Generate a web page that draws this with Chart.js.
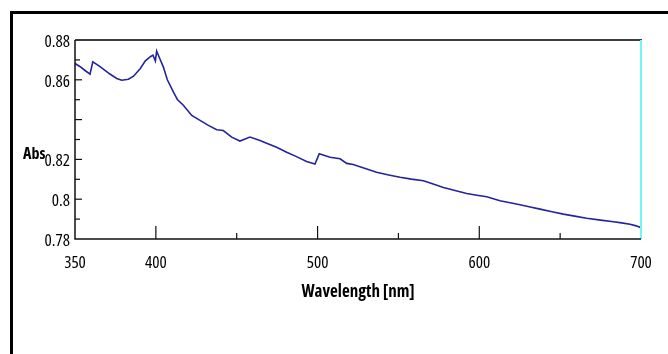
<!DOCTYPE html>
<html>
<head>
<meta charset="utf-8">
<script src="https://cdn.jsdelivr.net/npm/chart.js@4.4.1/dist/chart.umd.min.js"></script>
<style>
  html, body { margin: 0; padding: 0; background: #fff; }
  #wrap { position: relative; width: 668px; height: 354px; overflow: hidden; }
  #frame { position: absolute; left: 10px; top: 11px; width: 700px; height: 400px;
           border-left: 3px solid #000; border-top: 3px solid #000; pointer-events: none; }
  canvas { position: absolute; left: 0; top: 0; }
</style>
</head>
<body>
<div id="wrap">
  <canvas id="c" width="668" height="354"></canvas>
  <div id="frame"></div>
</div>
<script>
// ---- data ----
const wavelength = [350, 353, 356, 359.3, 361, 365.5, 371.6, 375.8, 378.9, 383,
  386.2, 390.4, 393.5, 396.6, 398.2, 399.7, 400.5, 402.6, 404.6, 407.1,
  410.8, 413.3, 417, 422.2, 427.3, 432.5, 437.6, 441.7, 446.9, 452,
  458.2, 464.4, 468.5, 474.7, 480.9, 487, 493.2, 498.4, 501, 507.7,
  513.9, 518, 522, 529, 536.5, 544, 551, 558, 565.4, 571.5,
  577.8, 585, 592.2, 598.5, 604.6, 612.8, 619, 625.2, 631.5, 637.6,
  645, 652, 659, 666.4, 675, 683, 688, 693.2, 697, 700];
const absorbance = [0.8682, 0.8667, 0.8648, 0.8628, 0.869, 0.8666, 0.8629, 0.8607, 0.8598, 0.8603,
  0.8618, 0.8657, 0.8695, 0.8716, 0.8724, 0.8695, 0.8744, 0.8703, 0.8665, 0.86,
  0.8539, 0.8501, 0.8472, 0.8421, 0.8396, 0.8371, 0.8349, 0.8345, 0.8312, 0.8292,
  0.8312, 0.8295, 0.8281, 0.8261, 0.8236, 0.8214, 0.819, 0.8177, 0.8228, 0.8211,
  0.8203, 0.818, 0.8174, 0.8155, 0.8135, 0.8122, 0.811, 0.8101, 0.8093, 0.8076,
  0.8059, 0.8044, 0.8029, 0.802, 0.8012, 0.7992, 0.7982, 0.7972, 0.7961, 0.795,
  0.7937, 0.7925, 0.7915, 0.7904, 0.7895, 0.7887, 0.7881, 0.7874, 0.7866, 0.7857];
const xTickLabels = ['350', '400', '500', '600', '700'];
const yTickLabels = ['0.78', '0.8', '0.82', '0.86', '0.88'];
const xTitle = 'Wavelength [nm]';
const yTitle = 'Abs';

const FONT = '"Open Sans", "Roboto Condensed", sans-serif';

const points = wavelength.map((w, i) => ({ x: w, y: absorbance[i] }));

const framePlugin = {
  id: 'framePlugin',
  afterDatasetsDraw(chart) {
    const { ctx, chartArea: { left, right, top, bottom }, scales: { x, y } } = chart;
    ctx.save();
    // top border
    ctx.strokeStyle = '#3c3c3c'; ctx.lineWidth = 2;
    ctx.beginPath(); ctx.moveTo(left, top); ctx.lineTo(right + 1, top); ctx.stroke();
    // right cyan border
    ctx.strokeStyle = '#70f8f8'; ctx.lineWidth = 2;
    ctx.beginPath(); ctx.moveTo(right, top); ctx.lineTo(right, bottom); ctx.stroke();
    // axes
    ctx.strokeStyle = '#111'; ctx.lineWidth = 1.5;
    ctx.beginPath(); ctx.moveTo(left, top); ctx.lineTo(left, bottom); ctx.lineTo(right, bottom); ctx.stroke();
    // y tick marks (inside, pointing right)
    ctx.lineWidth = 1.2;
    y.ticks.forEach(t => {
      const v = Math.round(t.value * 100);
      if (v <= 78 || v >= 88) return;
      const py = y.getPixelForValue(t.value);
      const len = (v % 2 === 0) ? 7 : 5;
      ctx.beginPath(); ctx.moveTo(left, py); ctx.lineTo(left + len, py); ctx.stroke();
    });
    // x tick marks (inside, pointing up)
    x.ticks.forEach(t => {
      if (t.value <= 350 || t.value >= 700) return;
      const px = x.getPixelForValue(t.value);
      const len = (t.value % 100 === 0) ? 13 : 6;
      ctx.beginPath(); ctx.moveTo(px, bottom); ctx.lineTo(px, bottom - len); ctx.stroke();
    });
    // "Abs" label
    ctx.fillStyle = '#000';
    ctx.font = 'bold condensed 16px ' + FONT;
    ctx.textAlign = 'left'; ctx.textBaseline = 'middle';
    ctx.fillText(yTitle, 23, 154);
    ctx.restore();
  }
};

new Chart(document.getElementById('c'), {
  type: 'line',
  data: {
    datasets: [{
      data: points,
      borderColor: '#24249c',
      borderWidth: 1.6,
      pointRadius: 0,
      tension: 0,
      fill: false
    }]
  },
  options: {
    responsive: false,
    animation: false,
    layout: { padding: { top: 40, right: 27, left: 0, bottom: 0 } },
    plugins: { legend: { display: false }, tooltip: { enabled: false } },
    scales: {
      x: {
        type: 'linear', min: 350, max: 700,
        grid: { display: false, drawTicks: false },
        border: { display: false },
        ticks: {
          stepSize: 50, autoSkip: false, maxRotation: 0, padding: 14,
          color: '#000', font: { family: FONT, size: 17, weight: 'condensed' },
          callback: v => xTickLabels.includes(String(v)) ? String(v) : ''
        },
        title: {
          display: true, text: xTitle, color: '#000',
          font: { family: FONT, size: 17, weight: 'bold condensed' },
          padding: { top: 0, bottom: 52 }
        },
        afterFit(s) { s.height = 115; }
      },
      y: {
        min: 0.78, max: 0.88,
        grid: { display: false, drawTicks: false },
        border: { display: false },
        ticks: {
          stepSize: 0.01, autoSkip: false, padding: 5, labelOffset: 2,
          color: '#000', font: { family: FONT, size: 17, weight: 'condensed' },
          callback: v => { const s = String(parseFloat(Number(v).toFixed(2))); return yTickLabels.includes(s) ? s : ''; }
        },
        afterFit(s) { s.width = 75; }
      }
    }
  },
  plugins: [framePlugin]
});
</script>
</body>
</html>
